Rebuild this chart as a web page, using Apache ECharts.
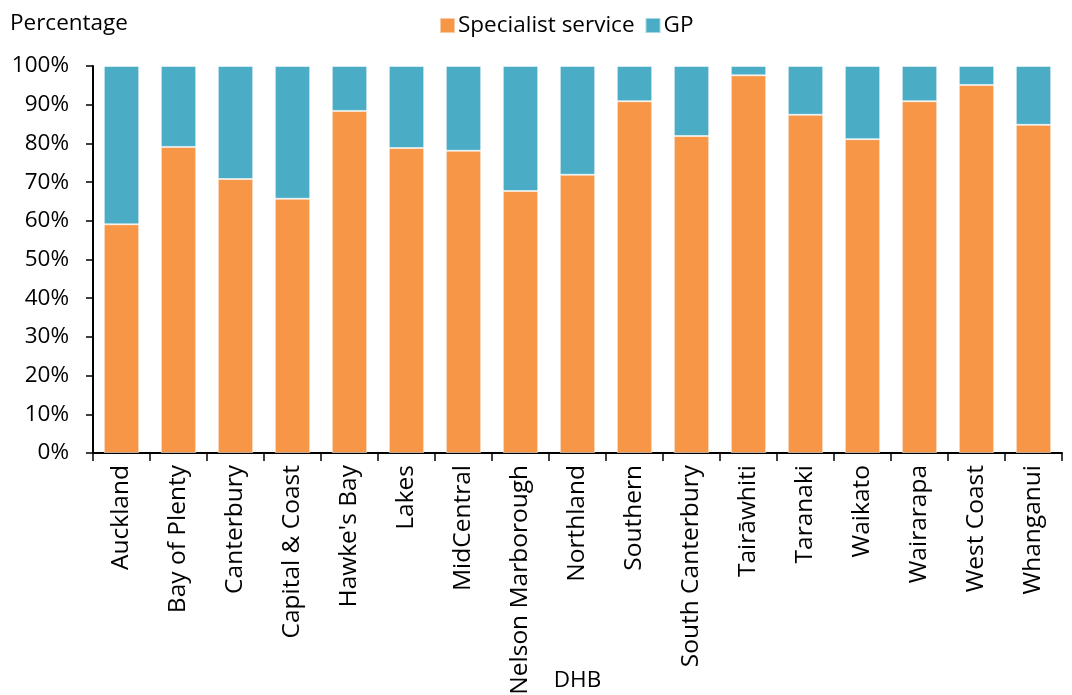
<!DOCTYPE html>
<html><head><meta charset="utf-8">
<script src="https://cdn.jsdelivr.net/npm/echarts@6/dist/echarts.min.js"></script>
<style>html,body{margin:0;padding:0;background:#fff}#c{width:1072px;height:695px}</style>
</head><body><div id="c"></div>
<script>
const categories = ["Auckland","Bay of Plenty","Canterbury","Capital & Coast","Hawke's Bay","Lakes","MidCentral","Nelson Marborough","Northland","Southern","South Canterbury","Tairāwhiti","Taranaki","Waikato","Wairarapa","West Coast","Whanganui"];
const specialist = [59.1,79.1,70.8,65.7,88.4,78.8,78.1,67.7,71.9,90.9,81.9,97.6,87.4,81.1,90.9,95.1,84.8];
const gp = [40.9,20.9,29.2,34.3,11.6,21.2,21.9,32.3,28.1,9.1,18.1,2.4,12.6,18.9,9.1,4.9,15.2];
const yTicks = [0,10,20,30,40,50,60,70,80,90,100];

const font = "Open Sans";
const fs = 22.5;
const chart = echarts.init(document.getElementById('c'));
chart.setOption({
  animation:false,
  textStyle:{fontFamily:font},
  title:{text:"Percentage",left:5,top:7,textStyle:{fontFamily:font,fontSize:fs,fontWeight:'normal',color:'#000'}},
  legend:{top:9,left:434,itemWidth:15,itemHeight:15,itemGap:10,icon:'rect',
    textStyle:{fontFamily:font,fontSize:fs,color:'#000',padding:[0,0,0,-2]},data:["Specialist service","GP"]},
  grid:{left:93,right:10,top:66,bottom:242,containLabel:false,outerBoundsMode:'none'},
  xAxis:{type:'category',data:categories,name:"DHB",nameLocation:'middle',nameGap:216,nameMoveOverlap:false,
    nameTextStyle:{fontFamily:font,fontSize:fs,color:'#000'},
    axisLine:{lineStyle:{color:'#000',width:2}},
    axisTick:{show:true,length:8,lineStyle:{color:'#000',width:1.5}},
    axisLabel:{rotate:90,fontSize:24.5,color:'#000',margin:12,interval:0,fontFamily:font}},
  yAxis:{type:'value',min:0,max:100,interval:10,
    axisLine:{show:true,lineStyle:{color:'#000',width:2}},
    axisTick:{show:true,length:7,lineStyle:{color:'#000',width:1.5}},
    splitLine:{show:false},
    axisLabel:{fontSize:fs,color:'#000',margin:24,fontFamily:font,
      formatter:v=>yTicks.includes(v)?v+'%':''}},
  series:[
    {name:"Specialist service",type:'bar',stack:'a',data:specialist,barCategoryGap:'38%',
      itemStyle:{color:'#F79646',borderColor:'rgba(255,255,255,0.5)',borderWidth:1}},
    {name:"GP",type:'bar',stack:'a',data:gp,barCategoryGap:'38%',
      itemStyle:{color:'#4BACC6',borderColor:'rgba(255,255,255,0.5)',borderWidth:1}}
  ]
});
</script></body></html>
